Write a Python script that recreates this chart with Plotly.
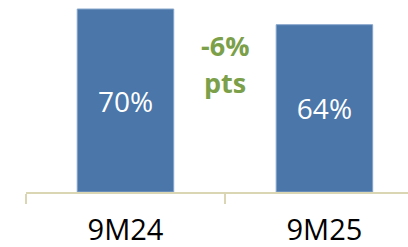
import plotly.graph_objects as go

categories = ["9M24", "9M25"]
values = [70, 64]
value_labels = ["70%", "64%"]
delta_label = "-6%"
delta_unit = "pts"

BAR = "#4A76A9"
AXIS = "#DAD5B3"
GREEN = "#7BA049"
FONT = "Open Sans"

fig = go.Figure()
fig.add_trace(go.Bar(
    x=categories, y=values, text=value_labels,
    textposition="inside", insidetextanchor="middle",
    textfont=dict(family=FONT, size=28, color="white"),
    marker=dict(color=BAR, line=dict(color="#86A4CC", width=1)),
    width=0.485, cliponaxis=False,
))

fig.add_annotation(x=0.5, y=56, xref="x", yref="y", text=f"<b>{delta_label}</b>",
                   showarrow=False, font=dict(family=FONT, size=27, color=GREEN),
                   xanchor="center", yanchor="middle")
fig.add_annotation(x=0.5, y=42, xref="x", yref="y", text=f"<b>{delta_unit}</b>",
                   showarrow=False, font=dict(family=FONT, size=27, color=GREEN),
                   xanchor="center", yanchor="middle")

fig.update_layout(
    width=408, height=247,
    margin=dict(l=26, r=0, t=0, b=55),
    paper_bgcolor="white", plot_bgcolor="white",
    showlegend=False,
    xaxis=dict(
        range=[-0.5, 1.42], showline=True, linecolor=AXIS, linewidth=1.5,
        ticks="outside", tickson="boundaries", ticklen=10, tickcolor=AXIS, tickwidth=1.5,
        ticklabelstandoff=12,
        tickfont=dict(family=FONT, size=29, color="black"),
        showgrid=False, zeroline=False, fixedrange=True, automargin=False,
    ),
    yaxis=dict(range=[0, 73.45], visible=False, showgrid=False, zeroline=False),
)

fig.write_html("out.html", config={"displayModeBar": False, "staticPlot": True})
with open("out.html", encoding="utf-8") as f:
    html = f.read()
html = html.replace("<body>", '<body style="margin:0;padding:0;overflow:hidden">', 1)
with open("out.html", "w", encoding="utf-8") as f:
    f.write(html)
